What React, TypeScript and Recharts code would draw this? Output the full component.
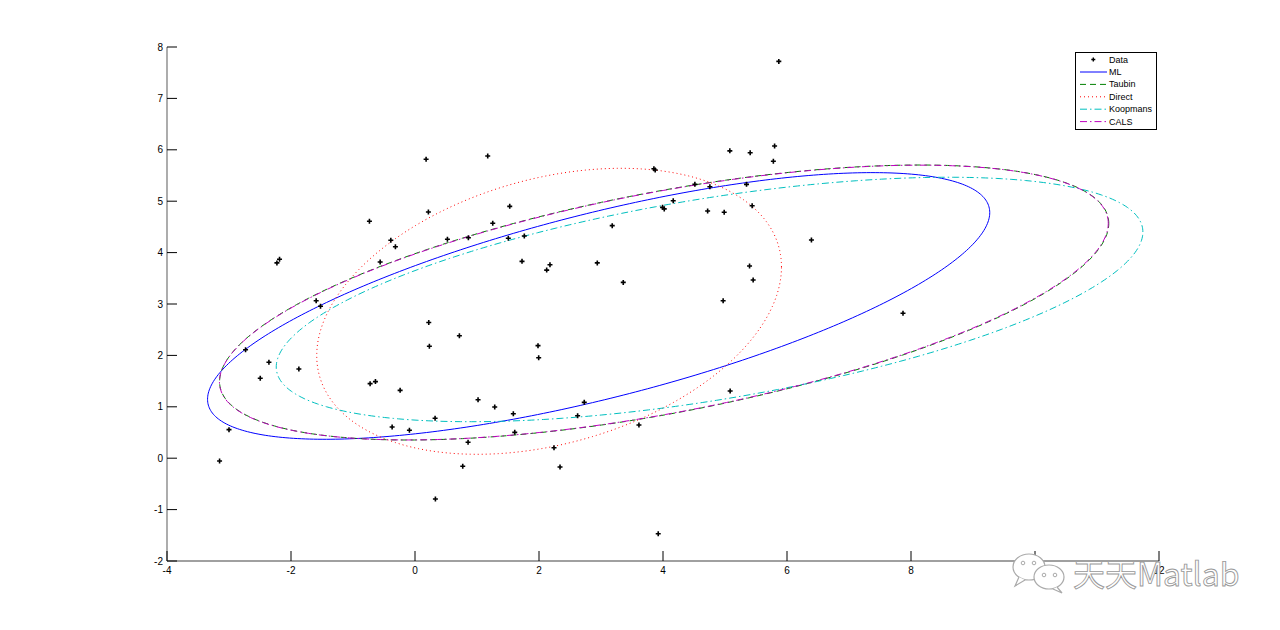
import React from 'react';
import { ComposedChart, Line, Scatter, XAxis, YAxis, Legend } from 'recharts';

// ---- data points ----
const dataX = [
  -3.152, -3.0, -2.733, -2.496, -2.356, -2.227, -2.185, -1.873, -1.594, -1.524,
  -0.562, -0.724, -0.638, -0.24, 0.222, 0.232, 0.716, 1.017, 1.286, 0.324,
  -0.369, -0.09, 0.856, 0.77, 0.179, 1.173, 5.078, 5.406, 5.8, 5.78,
  3.853, 3.874, 0.216, 1.528, 1.254, 0.523, 0.861, 1.505, 1.763, 4.514,
  4.756, 5.347, 4.165, 3.993, 4.02, 4.72, 4.987, 5.438, 3.181, 1.726,
  2.177, 2.124, 2.94, 3.359, 5.396, 5.454, 1.984, 1.995, 1.586, 1.609,
  0.329, 2.242, 2.339, 2.623, 2.73, 3.612, 3.923, 5.868, 6.394, 4.97,
  7.871, 5.083, -0.735, -0.39, -0.316,
];
const dataY = [
  -0.054, 0.555, 2.11, 1.555, 1.866, 3.8, 3.87, 1.735, 3.064, 2.955,
  3.817, 1.45, 1.49, 1.32, 2.64, 2.177, 2.383, 1.138, 0.996, 0.776,
  0.607, 0.543, 0.309, -0.158, 5.815, 5.879, 5.98, 5.944, 6.074, 5.776,
  5.632, 5.607, 4.79, 4.9, 4.57, 4.259, 4.29, 4.278, 4.323, 5.328,
  5.282, 5.328, 5.01, 4.88, 4.85, 4.81, 4.784, 4.912, 4.524, 3.83,
  3.765, 3.66, 3.8, 3.42, 3.74, 3.467, 2.19, 1.955, 0.866, 0.503,
  -0.794, 0.204, -0.171, 0.827, 1.087, 0.646, -1.469, 7.72, 4.245, 3.064,
  2.819, 1.307, 4.609, 4.24, 4.115,
];

// ---- fitted ellipses (centre, half extents along x / y, phase coupling) ----
const fitNames = ['ML', 'Taubin', 'Direct', 'Koopmans', 'CALS'];
const fitCenterX = [2.962, 4.019, 2.163, 4.751, 4.014];
const fitCenterY = [2.962, 3.029, 2.858, 3.088, 3.028];
const fitHalfWidth = [6.308, 7.171, 3.748, 6.989, 7.168];
const fitHalfHeight = [2.594, 2.675, 2.782, 2.378, 2.673];
const fitPhaseCos = [0.7, 0.575, 0.31, 0.552, 0.577];

// ---- axis ticks ----
const xTicks = [-4, -2, 0, 2, 4, 6, 8, 10, 12];
const yTicks = [-2, -1, 0, 1, 2, 3, 4, 5, 6, 7, 8];

// ---- styles ----
const fitColors = ['#0000ff', '#008000', '#ff0000', '#00bfbf', '#bf00bf'];
const fitDashes = [undefined, '6 4', '1 3', '7 3 1.5 3', '7 3 1.5 3'];

const scatterData = dataX.map((x, i) => ({ x, y: dataY[i] }));

const ellipsePoints = (i: number) => {
  const pts: { x: number; y: number }[] = [];
  const cphi = fitPhaseCos[i];
  const sphi = Math.sqrt(1 - cphi * cphi);
  const n = 400;
  for (let k = 0; k <= n; k++) {
    const t = (2 * Math.PI * k) / n;
    pts.push({
      x: fitCenterX[i] + fitHalfWidth[i] * Math.cos(t),
      y: fitCenterY[i] + fitHalfHeight[i] * (Math.cos(t) * cphi + Math.sin(t) * sphi),
    });
  }
  return pts;
};

const FONT = '"Liberation Sans", Arial, Helvetica, sans-serif';

const XTick = (props: any) => {
  const { x, y, payload } = props;
  return (
    <g>
      <line x1={x} x2={x} y1={y} y2={y - 10} stroke="#000" strokeWidth={1} />
      <text x={x} y={y + 13} textAnchor="middle" fontSize={10} fontFamily={FONT} fill="#000">
        {payload.value}
      </text>
    </g>
  );
};

const YTick = (props: any) => {
  const { x, y, payload } = props;
  return (
    <g>
      <line x1={x} x2={x + 10} y1={y} y2={y} stroke="#000" strokeWidth={1} />
      <text x={x - 4} y={y + 3.5} textAnchor="end" fontSize={10} fontFamily={FONT} fill="#000">
        {payload.value}
      </text>
    </g>
  );
};

const Marker = (props: any) => {
  const { cx, cy } = props;
  if (cx == null || cy == null) return null;
  return (
    <path
      d={`M${cx - 2.5},${cy}h5M${cx},${cy - 2.5}v5`}
      stroke="#000"
      strokeWidth={1.6}
      fill="none"
    />
  );
};

const LegendBox = () => {
  const rowY = [7.5, 20, 32.4, 44.8, 57.2, 69.6];
  return (
    <svg width={82} height={78} style={{ display: 'block' }}>
      <rect x={0.5} y={0.5} width={81} height={77} fill="#fff" stroke="#000" strokeWidth={1} />
      <path
        d={`M${18.3 - 2},${rowY[0]}h4M18.3,${rowY[0] - 2}v4`}
        stroke="#000"
        strokeWidth={1.4}
      />
      <text x={34} y={rowY[0] + 3} fontSize={9} fontFamily={FONT} fill="#000">Data</text>
      {fitNames.map((name, i) => (
        <g key={name}>
          <line
            x1={5}
            x2={32}
            y1={rowY[i + 1]}
            y2={rowY[i + 1]}
            stroke={fitColors[i]}
            strokeWidth={1}
            strokeDasharray={fitDashes[i]}
          />
          <text x={34} y={rowY[i + 1] + 3} fontSize={9} fontFamily={FONT} fill="#000">
            {name}
          </text>
        </g>
      ))}
    </svg>
  );
};

const Watermark = () => (
  <svg
    width={270}
    height={60}
    style={{ position: 'absolute', left: 1005, top: 545, pointerEvents: 'none' }}
  >
    <ellipse cx={24} cy={22} rx={16} ry={13} fill="#fff" stroke="#aaa" strokeWidth={1.2} />
    <path d="M14,32 l-4,9 l10,-6" fill="#fff" stroke="#aaa" strokeWidth={1.2} />
    <circle cx={18} cy={18} r={1.8} fill="none" stroke="#aaa" />
    <circle cx={29} cy={18} r={1.8} fill="none" stroke="#aaa" />
    <ellipse cx={44} cy={32} rx={15} ry={12} fill="#fff" stroke="#aaa" strokeWidth={1.2} />
    <path d="M52,42 l5,6 l-9,-4" fill="#fff" stroke="#aaa" strokeWidth={1.2} />
    <circle cx={39} cy={30} r={1.8} fill="none" stroke="#aaa" />
    <circle cx={50} cy={30} r={1.8} fill="none" stroke="#aaa" />
    <text
      x={68}
      y={41}
      fontSize={32}
      fontFamily='"Noto Sans CJK SC", "Liberation Sans", sans-serif'
      fill="#fff"
      stroke="#999"
      strokeWidth={0.9}
    >
      天天Matlab
    </text>
  </svg>
);

export default function App() {
  return (
    <div style={{ position: 'absolute', left: 0, top: 0, width: 1280, height: 630, background: '#fff' }}>
      <ComposedChart
        width={1280}
        height={630}
        margin={{ top: 47, right: 121, bottom: 39, left: 107 }}
      >
        <XAxis
          type="number"
          dataKey="x"
          domain={[-4, 12]}
          ticks={xTicks}
          interval={0}
          allowDataOverflow
          height={30}
          tickSize={0}
          tickMargin={0}
          tick={<XTick />}
          axisLine={{ stroke: '#808080', strokeWidth: 1.3 }}
          tickLine={false}
        />
        <YAxis
          type="number"
          dataKey="y"
          domain={[-2, 8]}
          ticks={yTicks}
          interval={0}
          allowDataOverflow
          width={60}
          tickSize={0}
          tickMargin={0}
          tick={<YTick />}
          axisLine={{ stroke: '#808080', strokeWidth: 1.3 }}
          tickLine={false}
        />
        <Legend
          layout="vertical"
          align="center"
          verticalAlign="middle"
          content={() => <LegendBox />}
          wrapperStyle={{ position: 'absolute', left: 1075, top: 52, width: 82, height: 78 }}
        />
        <Scatter
          name="Data"
          data={scatterData}
          dataKey="y"
          shape={<Marker />}
          isAnimationActive={false}
        />
        {fitNames.map((name, i) => (
          <Line
            key={name}
            name={name}
            data={ellipsePoints(i)}
            dataKey="y"
            type="linear"
            dot={false}
            activeDot={false}
            stroke={fitColors[i]}
            strokeWidth={1}
            strokeDasharray={fitDashes[i]}
            isAnimationActive={false}
          />
        ))}
      </ComposedChart>
      <Watermark />
    </div>
  );
}
